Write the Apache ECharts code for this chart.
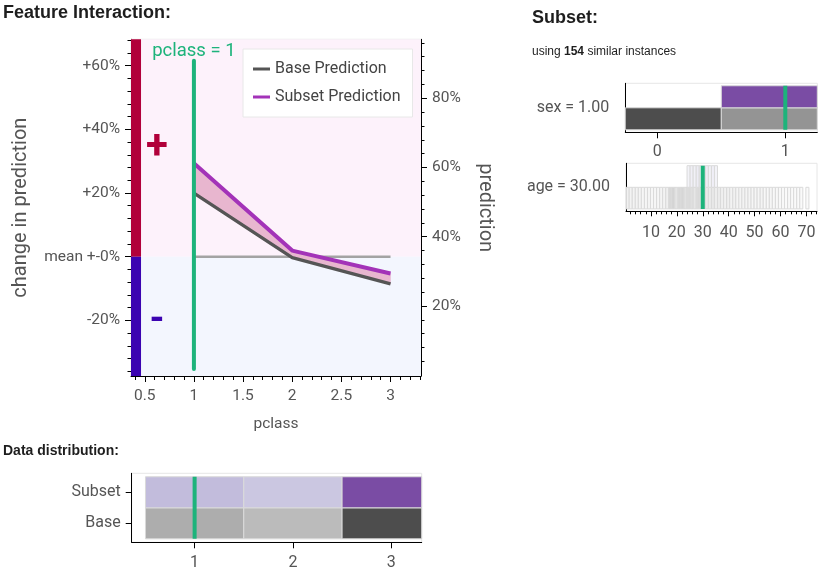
<!DOCTYPE html>
<html lang="en">
<head>
<meta charset="UTF-8">
<title>Feature Interaction</title>
<script src="https://cdn.jsdelivr.net/npm/echarts@6.0.0/dist/echarts.min.js"></script>
<style>
  html, body { margin: 0; padding: 0; background: #fff; }
  #chart { width: 822px; height: 574px; }
</style>
</head>
<body>
<div id="chart"></div>
<script>
// ---- values ----
const PCLASS = [1, 2, 3];
const BASE_PRED = [52.6, 34.0, 26.4];      // prediction in %, base
const SUBSET_PRED = [61.2, 36.0, 29.4];    // prediction in %, subset
const SELECTED_PCLASS = 1;
const SELECTED_SEX = 1;
const SELECTED_AGE = 30;
const SUBSET_SIZE = 154;

const ROW_NAMES = ['Base', 'Subset'];
const PCLASS_BASE_SHADE = [0.46, 0.38, 1];
const PCLASS_SUBSET_SHADE = [0.445, 0.37, 1];
const SEX_VALUES = [0, 1];
const SEX_BASE_SHADE = [1, 0.6];
const SEX_SUBSET_SHADE = [0, 1];

// age histogram: 60 equal bins from 0.42
const AGE_BIN_START = 0.42;
const AGE_BIN_WIDTH = 1.176;
const AGE_BASE_SHADE = [
  0.08, 0.07, 0.07, 0.07, 0.06, 0.05, 0.05, 0.06, 0.05, 0.05,
  0.05, 0.06, 0.07, 0.09, 0.22, 0.24, 0.15, 0.22, 0.23, 0.17,
  0.20, 0.18, 0.14, 0.20, 0.16, 0.18, 0.12, 0.11, 0.13, 0.10,
  0.11, 0.09, 0.08, 0.09, 0.07, 0.08, 0.06, 0.06, 0.07, 0.06,
  0.06, 0.05, 0.05, 0.05, 0.06, 0.04, 0.04, 0.05, 0.04, 0.04,
  0.04, 0.04, 0.03, 0.04, 0.03, 0.03, 0.03, 0.03, 0, 0.03
];
const AGE_SUBSET_SHADE = [
  0, 0, 0, 0, 0, 0, 0, 0, 0, 0,
  0, 0, 0, 0, 0, 0, 0, 0, 0, 0,
  0.08, 0.10, 0.09, 0.12, 0.10, 0.11, 0.12, 0.09, 0.10, 0.08,
  0, 0, 0, 0, 0, 0, 0, 0, 0, 0,
  0, 0, 0, 0, 0, 0, 0, 0, 0, 0,
  0, 0, 0, 0, 0, 0, 0, 0, 0, 0
];

// axis ranges and tick labels
const X_RANGE = [0.36, 3.31];
const CHANGE_RANGE = [-37.5, 68.3];
const PRED_RANGE = [-0.2, 97];
const SEX_RANGE = [-0.25, 1.25];
const AGE_RANGE = [0.37, 74.1];
const X_TICKS = [0.5, 1, 1.5, 2, 2.5, 3];
const CHANGE_TICKS = [-20, 0, 20, 40, 60];
const PRED_TICKS = [20, 40, 60, 80];
const SEX_TICKS = [0, 1];
const AGE_TICKS = [10, 20, 30, 40, 50, 60, 70];

// ---- styles ----
const GREEN = '#1db37b';
const LABEL = '#555';
const FONT = 'Roboto';
const HEAD_FONT = 'Liberation Sans';
const ROW_PAD = 0.1;
const CELL_STROKE = '#dadada';

function steps(a, b, s) {
  const out = [];
  for (let v = a; v <= b + 1e-9; v += s) out.push(+v.toFixed(4));
  return out;
}

function catCells(values, shades, row) {
  return values.map((v, i) => [v - 0.5, v + 0.5, row, shades[i]]);
}
function binCells(shades, row) {
  return shades.map((s, i) => [AGE_BIN_START + i * AGE_BIN_WIDTH, AGE_BIN_START + (i + 1) * AGE_BIN_WIDTH, row, s]);
}

function renderCell(params, api) {
  const shade = api.value(3);
  if (!(shade > 0)) return null;
  const row = api.value(2);
  const a = api.coord([api.value(0), row === 0 ? ROW_PAD : 1]);
  const b = api.coord([api.value(1), row === 0 ? 1 : 2 - ROW_PAD]);
  const rect = echarts.graphic.clipRectByRect(
    { x: a[0], y: b[1], width: b[0] - a[0], height: a[1] - b[1] }, params.coordSys);
  if (!rect) return null;
  return { type: 'rect', shape: rect, style: { fill: api.visual('color'), stroke: CELL_STROKE, lineWidth: 1 } };
}

function renderBand(params, api) {
  const pts = [
    api.coord([api.value(0), api.value(1)]),
    api.coord([api.value(3), api.value(4)]),
    api.coord([api.value(3), api.value(5)]),
    api.coord([api.value(0), api.value(2)])
  ];
  return { type: 'polygon', shape: { points: pts }, style: { fill: '#e8b6cf', stroke: '#e8b6cf', lineWidth: 0.5 } };
}

const bandData = [];
for (let i = 0; i < PCLASS.length - 1; i++) {
  bandData.push([PCLASS[i], BASE_PRED[i], SUBSET_PRED[i], PCLASS[i + 1], BASE_PRED[i + 1], SUBSET_PRED[i + 1]]);
}

// axis helper
function valueAxis(o) {
  const ax = {
    type: 'value',
    gridIndex: o.grid,
    position: o.position,
    min: o.range[0],
    max: o.range[1],
    splitLine: { show: false },
    axisLine: { show: o.line !== false, onZero: false, lineStyle: { color: '#000', width: 1 } },
    axisTick: o.ticks
      ? { show: true, customValues: o.ticks, length: o.tickLen || 6, lineStyle: { color: '#000', width: 1 } }
      : { show: false },
    axisLabel: o.labels
      ? { show: true, customValues: o.labels, color: LABEL, fontSize: o.fontSize || 15.5, fontFamily: FONT,
          margin: o.margin || 10, formatter: o.formatter }
      : { show: false }
  };
  if (o.name) {
    ax.name = o.name;
    ax.nameLocation = 'middle';
    ax.nameGap = o.nameGap;
    if (o.nameRotate != null) ax.nameRotate = o.nameRotate;
    ax.nameTextStyle = { color: LABEL, fontSize: o.nameSize, fontFamily: FONT };
  }
  return ax;
}

const xAxis = [
  valueAxis({ grid: 0, position: 'bottom', range: X_RANGE, ticks: X_TICKS, labels: X_TICKS, margin: 12.5,
    name: 'pclass', nameGap: 40, nameSize: 15.5 }),
  valueAxis({ grid: 0, position: 'bottom', range: X_RANGE, line: false, ticks: steps(0.4, 3.3, 0.1), tickLen: 4 }),
  valueAxis({ grid: 1, position: 'bottom', range: SEX_RANGE, ticks: SEX_TICKS, labels: SEX_TICKS, fontSize: 16, margin: 12 }),
  valueAxis({ grid: 2, position: 'bottom', range: AGE_RANGE, ticks: AGE_TICKS, labels: AGE_TICKS, tickLen: 5, fontSize: 16, margin: 14 }),
  valueAxis({ grid: 2, position: 'bottom', range: AGE_RANGE, line: false, ticks: steps(2, 74, 2), tickLen: 3 }),
  valueAxis({ grid: 3, position: 'bottom', range: X_RANGE, ticks: [1, 2, 3], labels: [1, 2, 3], fontSize: 16, margin: 12.5 })
];

const yAxis = [
  valueAxis({ grid: 0, position: 'left', range: CHANGE_RANGE, ticks: CHANGE_TICKS, labels: CHANGE_TICKS, margin: 11,
    formatter: v => v === 0 ? 'mean +-0%' : (v > 0 ? '+' : '') + v + '%',
    name: 'change in prediction', nameGap: 100, nameSize: 20 }),
  valueAxis({ grid: 0, position: 'left', range: CHANGE_RANGE, line: false, ticks: steps(-36, 68, 4), tickLen: 3.5 }),
  valueAxis({ grid: 0, position: 'right', range: PRED_RANGE, ticks: PRED_TICKS, labels: PRED_TICKS, margin: 11,
    formatter: v => v + '%', name: 'prediction', nameGap: 54, nameSize: 20, nameRotate: -90 }),
  valueAxis({ grid: 0, position: 'right', range: PRED_RANGE, line: false, ticks: steps(4, 96, 4), tickLen: 3.5 }),
  valueAxis({ grid: 1, position: 'left', range: [0, 2], labels: [1], fontSize: 16, margin: 16,
    formatter: () => 'sex = ' + SELECTED_SEX.toFixed(2) }),
  valueAxis({ grid: 2, position: 'left', range: [0, 2], labels: [1], fontSize: 16, margin: 16,
    formatter: () => 'age = ' + SELECTED_AGE.toFixed(2) }),
  valueAxis({ grid: 3, position: 'left', range: [0, 2], ticks: [0.55, 1.45], labels: [0.55, 1.45], fontSize: 16, margin: 11,
    formatter: v => v < 1 ? ROW_NAMES[0] : ROW_NAMES[1] })
];

const series = [];
const greySeries = [];
const purpleSeries = [];

// mean line + background areas (change axis)
series.push({
  type: 'line', xAxisIndex: 0, yAxisIndex: 0, z: 2, silent: true,
  data: [[PCLASS[0], 0], [PCLASS[PCLASS.length - 1], 0]],
  symbol: 'none', lineStyle: { color: '#a3a3a3', width: 2.5 },
  markArea: {
    silent: true,
    data: [
      [{ yAxis: 0, itemStyle: { color: '#fdf2fb' } }, { yAxis: CHANGE_RANGE[1] }],
      [{ yAxis: CHANGE_RANGE[0], itemStyle: { color: '#f3f6fe' } }, { yAxis: 0 }],
      [{ xAxis: X_RANGE[0], yAxis: 0, itemStyle: { color: '#b1003a' } }, { xAxis: X_RANGE[0] + 0.102, yAxis: CHANGE_RANGE[1] }],
      [{ xAxis: X_RANGE[0], yAxis: CHANGE_RANGE[0], itemStyle: { color: '#3b03b1' } }, { xAxis: X_RANGE[0] + 0.102, yAxis: 0 }]
    ]
  }
});
// band between base and subset
series.push({
  type: 'custom', xAxisIndex: 0, yAxisIndex: 2, z: 3, silent: true,
  encode: { x: [0, 3], y: [1, 2, 4, 5] },
  renderItem: renderBand, data: bandData
});
series.push({
  name: 'Base Prediction', type: 'line', xAxisIndex: 0, yAxisIndex: 2, z: 4,
  data: PCLASS.map((p, i) => [p, BASE_PRED[i]]), symbol: 'none',
  itemStyle: { color: '#555555' }, lineStyle: { color: '#555555', width: 3.3 }
});
series.push({
  name: 'Subset Prediction', type: 'line', xAxisIndex: 0, yAxisIndex: 2, z: 5,
  data: PCLASS.map((p, i) => [p, SUBSET_PRED[i]]), symbol: 'none',
  itemStyle: { color: '#a333b8' }, lineStyle: { color: '#a333b8', width: 4 }
});
series.push({
  type: 'line', xAxisIndex: 0, yAxisIndex: 2, z: 6, silent: true,
  data: [[SELECTED_PCLASS, 1.8], [SELECTED_PCLASS, 90.8]], symbol: 'none',
  lineStyle: { color: GREEN, width: 4, cap: 'round' },
  markPoint: {
    symbol: 'circle', symbolSize: 0, silent: true,
    data: [{ coord: [SELECTED_PCLASS, 90.8] }],
    label: { show: true, position: 'top', distance: 0, color: GREEN, fontSize: 18.5, fontFamily: FONT,
      formatter: 'pclass = ' + SELECTED_PCLASS }
  }
});

// cell panels
function addCells(xi, yi, cells, group) {
  group.push(series.length);
  series.push({
    type: 'custom', xAxisIndex: xi, yAxisIndex: yi, z: 3, silent: true,
    encode: { x: [0, 1], y: 2 }, renderItem: renderCell, data: cells
  });
}
function addMarker(xi, yi, x) {
  series.push({
    type: 'line', xAxisIndex: xi, yAxisIndex: yi, z: 6, silent: true,
    data: [[x, ROW_PAD], [x, 2 - ROW_PAD]], symbol: 'none',
    lineStyle: { color: GREEN, width: 4 }
  });
}
addCells(2, 4, catCells(SEX_VALUES, SEX_BASE_SHADE, 0), greySeries);
addCells(2, 4, catCells(SEX_VALUES, SEX_SUBSET_SHADE, 1), purpleSeries);
addMarker(2, 4, SELECTED_SEX);
addCells(3, 5, binCells(AGE_BASE_SHADE, 0), greySeries);
addCells(3, 5, binCells(AGE_SUBSET_SHADE, 1), purpleSeries);
addMarker(3, 5, SELECTED_AGE);
addCells(5, 6, catCells(PCLASS, PCLASS_BASE_SHADE, 0), greySeries);
addCells(5, 6, catCells(PCLASS, PCLASS_SUBSET_SHADE, 1), purpleSeries);
addMarker(5, 6, SELECTED_PCLASS);

const gridBase = { show: true, borderColor: '#e6e6e6', borderWidth: 1, backgroundColor: 'transparent',
  containLabel: false, outerBoundsMode: 'none' };

const option = {
  animation: false,
  textStyle: { fontFamily: FONT },
  grid: [
    Object.assign({ left: 131, top: 39.3, width: 290, height: 336.7 }, gridBase),
    Object.assign({ left: 625.3, top: 83.3, width: 192, height: 49 }, gridBase),
    Object.assign({ left: 626, top: 163.3, width: 191, height: 48 }, gridBase),
    Object.assign({ left: 131.7, top: 473.3, width: 290, height: 69 }, gridBase)
  ],
  xAxis: xAxis,
  yAxis: yAxis,
  legend: {
    data: ['Base Prediction', 'Subset Prediction'],
    orient: 'vertical', left: 243, top: 49, selectedMode: false,
    icon: 'rect', itemWidth: 17, itemHeight: 3, itemGap: 10,
    padding: [11, 12, 11, 10],
    backgroundColor: '#fff', borderColor: '#e8e8e8', borderWidth: 1,
    textStyle: { fontSize: 16, color: '#444', fontFamily: FONT, lineHeight: 18 }
  },
  visualMap: [
    { type: 'continuous', show: false, seriesIndex: greySeries, dimension: 3, min: 0, max: 1,
      inRange: { color: ['#ffffff', '#4d4d4d'] } },
    { type: 'continuous', show: false, seriesIndex: purpleSeries, dimension: 3, min: 0, max: 1,
      inRange: { color: ['#ffffff', '#d9d8ea', '#bcb4d8', '#9b80c0', '#7a4ca4'] } }
  ],
  graphic: [
    { type: 'text', x: 3, y: 13, style: { text: 'Feature Interaction:', fontSize: 18, fontWeight: 'bold',
      fontFamily: HEAD_FONT, fill: '#1e1e1e', align: 'left', verticalAlign: 'middle' } },
    { type: 'text', x: 532, y: 18, style: { text: 'Subset:', fontSize: 18, fontWeight: 'bold',
      fontFamily: HEAD_FONT, fill: '#1e1e1e', align: 'left', verticalAlign: 'middle' } },
    { type: 'text', x: 532, y: 52, style: { text: 'using {b|' + SUBSET_SIZE + '} similar instances', fontSize: 12,
      fontFamily: HEAD_FONT, fill: '#1e1e1e', align: 'left', verticalAlign: 'middle',
      rich: { b: { fontSize: 12, fontWeight: 'bold', fontFamily: HEAD_FONT, fill: '#1e1e1e' } } } },
    { type: 'text', x: 3, y: 451, style: { text: 'Data distribution:', fontSize: 14, fontWeight: 'bold',
      fontFamily: HEAD_FONT, fill: '#1e1e1e', align: 'left', verticalAlign: 'middle' } },
    { type: 'text', x: 157, y: 148, z: 100, style: { text: '+', fontSize: 40, fontWeight: 'bold',
      fontFamily: FONT, fill: '#b1003a', align: 'center', verticalAlign: 'middle' } },
    { type: 'text', x: 157, y: 321, z: 100, style: { text: '-', fontSize: 38, fontWeight: 'bold',
      fontFamily: FONT, fill: '#3b03b1', align: 'center', verticalAlign: 'middle' } }
  ],
  series: series
};

const chart = echarts.init(document.getElementById('chart'));
chart.setOption(option);
</script>
</body>
</html>
